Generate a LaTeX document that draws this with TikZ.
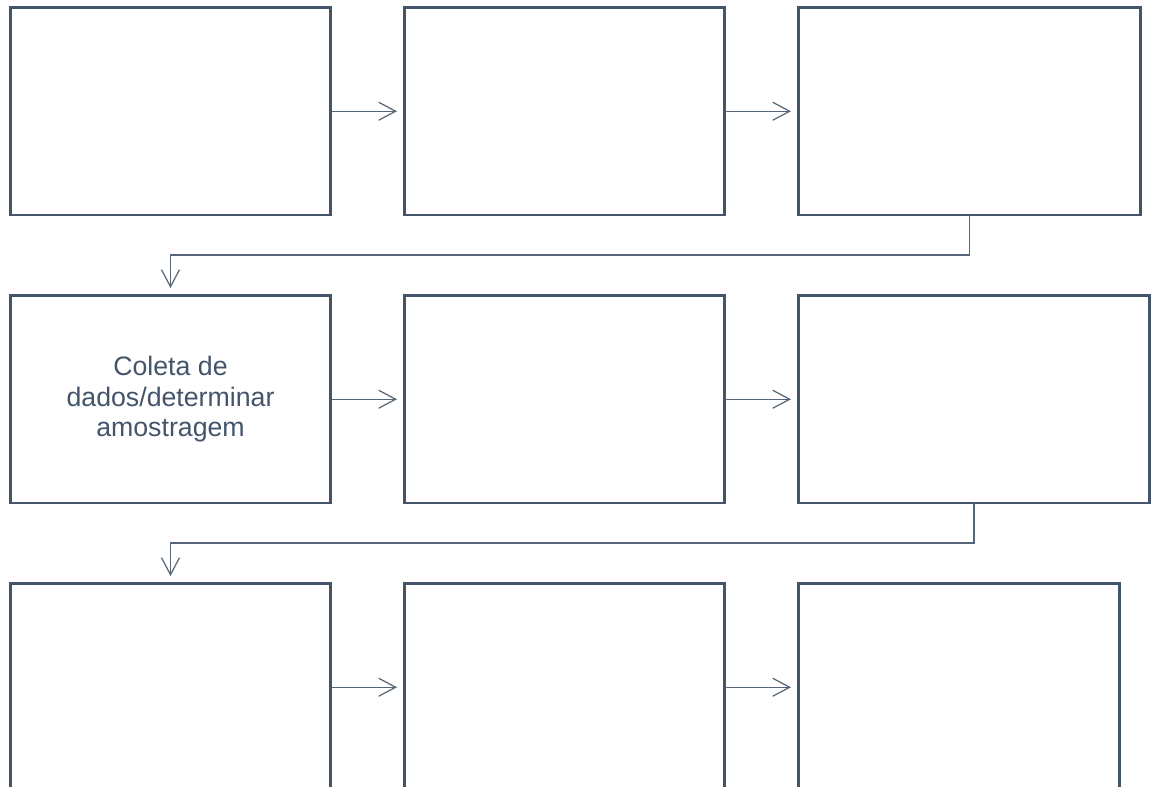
\documentclass[tikz,border=0pt]{standalone}
\usepackage{fontspec}
\setmainfont{Liberation Sans}
\usepackage{xcolor}
\usepackage{tikz}
\usetikzlibrary{
    arrows.meta,
    positioning
}
\definecolor{slateline}{HTML}{44546A}
\tikzset{
    stepbox/.style={
        rectangle, draw=slateline, line width=1.4pt,
        minimum width=6.4cm, minimum height=4.15cm,
        align=center, inner sep=0pt, outer sep=0pt, text=slateline,
        font=\fontsize{15.2}{17.5}\selectfont
    },
    stepbox wide/.style={
        stepbox, minimum width=#1
    },
    flow/.style={
        -{Straight Barb[length=0.34cm, width=0.36cm]},
        line width=0.7pt, draw=slateline!90, shorten >=0.15cm
    },
}

\begin{document}
\begin{tikzpicture}
    \path[use as bounding box, clip] (0,0) rectangle (23.08,-15.74);

    % first row
    \node[stepbox] (box1) at (3.41,-2.225) {};
    \node[stepbox, right=1.48cm of box1] (box2) {};
    \node[stepbox wide=6.84cm, right=1.48cm of box2] (box3) {};

    % second row
    \node[stepbox, below=1.61cm of box1] (box4) {Coleta de\\dados/determinar\\amostragem};
    \node[stepbox, right=1.48cm of box4] (box5) {};
    \node[stepbox wide=7.02cm, right=1.48cm of box5] (box6) {};

    % third row
    \node[stepbox, below=1.61cm of box4] (box7) {};
    \node[stepbox, right=1.48cm of box7] (box8) {};
    \node[stepbox wide=6.42cm, right=1.48cm of box8] (box9) {};

    \draw[flow] (box1) -- (box2);
    \draw[flow] (box2) -- (box3);
    \draw[flow] (box4) -- (box5);
    \draw[flow] (box5) -- (box6);
    \draw[flow] (box7) -- (box8);
    \draw[flow] (box8) -- (box9);

    \draw[flow] (box3.south) -- ++(0,-0.8) -| (box4.north);
    \draw[flow] (box6.south) -- ++(0,-0.8) -| (box7.north);
\end{tikzpicture}
\end{document}
